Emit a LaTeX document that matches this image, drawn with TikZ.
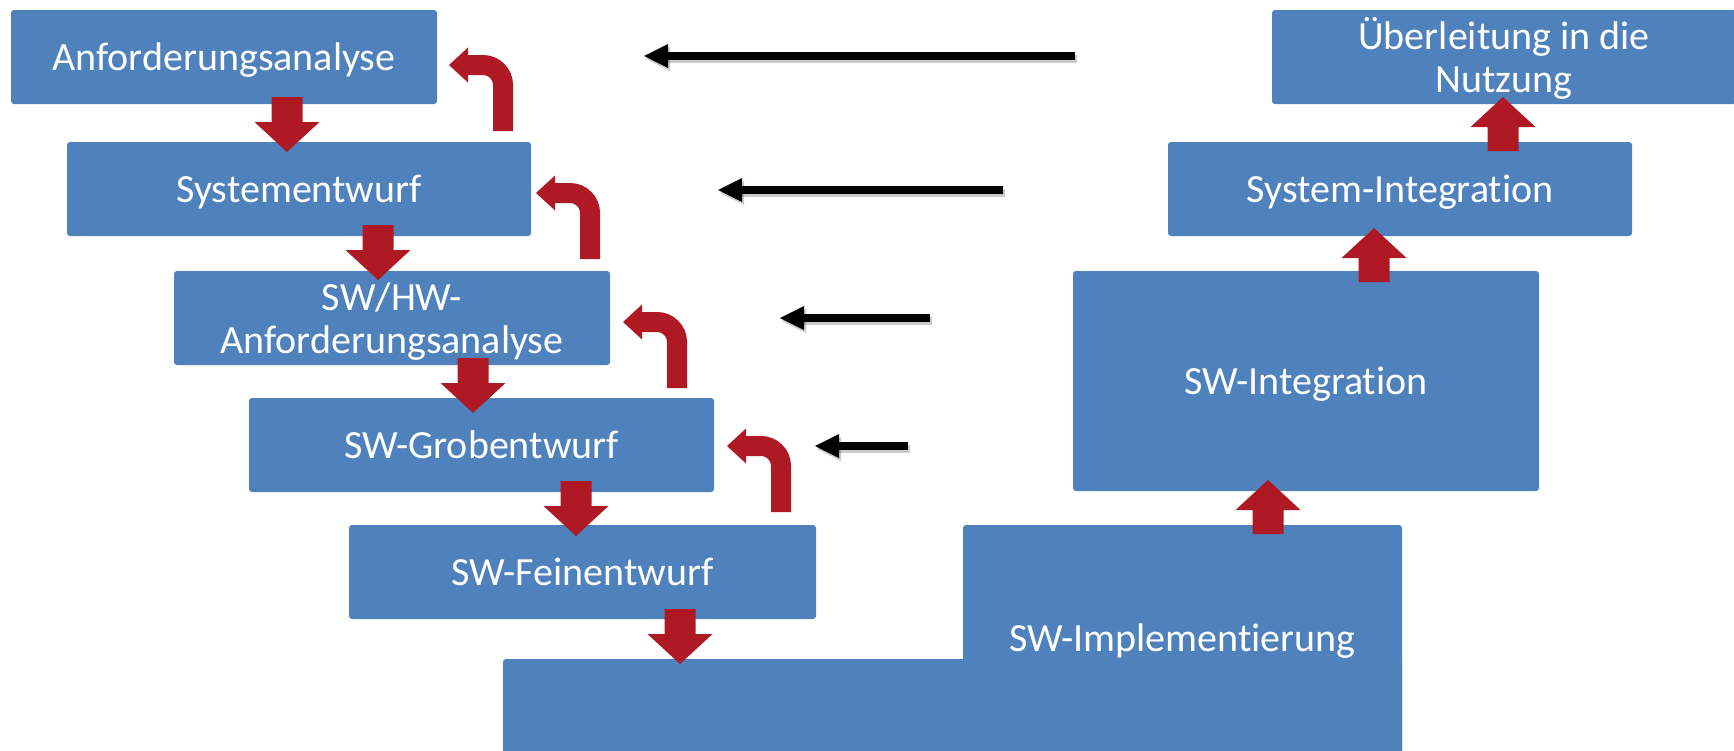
\documentclass[tikz,border=0pt]{standalone}
\usepackage{fontspec}
\setmainfont{Carlito}[Ligatures=CommonOff]
\usetikzlibrary{calc}
\definecolor{boxblue}{RGB}{79,129,189}
\definecolor{arrred}{RGB}{174,25,35}
\tikzset{
  box/.style={fill=boxblue, rounded corners=1.5pt, text=white, inner sep=0pt,
    font=\fontsize{20}{21.5}\selectfont, align=center},
  oneline/.style={text height=14pt, text depth=0.5pt},
  twoline/.style={text height=35.5pt, text depth=0.5pt},
  downblk/.pic={\fill[arrred] (-15.5,-55) -- (15.5,-55) -- (15.5,-30) -- (32.5,-30) -- (0,0) -- (-32.5,-30) -- (-15.5,-30) -- cycle;},
  upblk/.pic={\fill[arrred] (-15.5,54) -- (15.5,54) -- (15.5,30) -- (32.5,30) -- (0,0) -- (-32.5,30) -- (-15.5,30) -- cycle;},
  uturn/.pic={\fill[arrred] (0,0) -- (19,-17.5) -- (19,17.5) -- cycle;
    \draw[arrred, line width=10pt, rounded corners=10pt] (18,0) -- (54,0) -- (54,66);},
  blkhead/.pic={\fill[black] (0,0) -- (24,-12) -- (24,12) -- cycle;},
  shadowhead/.pic={\fill[black!60, opacity=0.35] (0,0) -- (24,-12) -- (24,12) -- cycle;},
  fback/.style={line width=4pt, black},
  fshadow/.style={line width=4pt, black!60, opacity=0.35},
}
\begin{document}
\begin{tikzpicture}[x=0.5pt,y=-0.5pt]
\useasboundingbox (0,0) rectangle (1734,750);

% left (descending) boxes
\node[box, oneline, minimum width=213pt, minimum height=47pt] (A1) at (224,57) {Anforderungsanalyse};
\node[box, oneline, minimum width=232pt, minimum height=47pt] (A2) at (299,189) {Systementwurf};
\node[box, twoline, minimum width=218pt, minimum height=47pt] (A3) at (392,318) {SW/HW-\\Anforderungsanalyse};
\node[box, oneline, minimum width=232.5pt, minimum height=47pt] (A4) at (481.5,445) {SW-Grobentwurf};
\node[box, oneline, minimum width=233.5pt, minimum height=47pt] (A5) at (582.5,572) {SW-Feinentwurf};

% bottom implementation block
\fill[boxblue, rounded corners=1.5pt] (503,659) rectangle (1402,760);
\node[box, oneline, minimum width=219.5pt, minimum height=117.5pt] (IM) at (1182.5,642.5) {};
\node[text=white, font=\fontsize{20}{21.5}\selectfont, text height=14pt, text depth=0.5pt, inner sep=0pt] (IMt) at (1182.5,637.5) {SW-Implementierung};

% right (ascending) boxes
\node[box, oneline, minimum width=233pt, minimum height=110pt] (B1) at (1306,381) {SW-Integration};
\node[box, oneline, minimum width=232pt, minimum height=47pt] (B2) at (1400,189) {System-Integration};
\node[box, twoline, minimum width=232pt, minimum height=47pt] (B3) at (1504,57) {Überleitung in die\\Nutzung};

% red down arrows
\pic at (287,152) {downblk};
\pic at (378,280) {downblk};
\pic at (473,413) {downblk};
\pic at (576,536) {downblk};
\pic at (680,664) {downblk};

% red up arrows
\pic at (1268,480) {upblk};
\pic at (1374,228) {upblk};
\pic at (1503,97) {upblk};

% red u-turn arrows
\pic at (449,65) {uturn};
\pic at (536,193) {uturn};
\pic at (623,322) {uturn};
\pic at (727,446) {uturn};

% black feedback arrows
\coordinate (f1s) at (1075,56); \coordinate (f1e) at (644,56);
\coordinate (f2s) at (1003,190); \coordinate (f2e) at (718,190);
\coordinate (f3s) at (930,318); \coordinate (f3e) at (780,318);
\coordinate (f4s) at (908,446); \coordinate (f4e) at (815,446);
\foreach \i in {1,2,3,4}{
  \draw[fshadow] ($(f\i s)+(2,3)$) -- ($(f\i e)+(22,3)$);
  \pic at ($(f\i e)+(2,3)$) {shadowhead};
  \draw[fback] (f\i s) -- ($(f\i e)+(20,0)$);
  \pic at (f\i e) {blkhead};
}
\end{tikzpicture}
\end{document}
